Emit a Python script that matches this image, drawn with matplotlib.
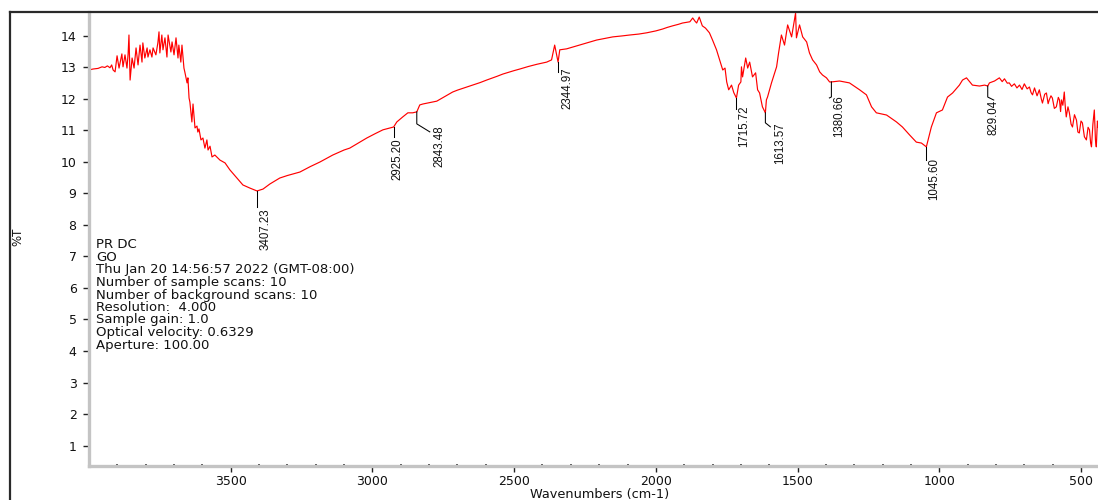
import numpy as np
import matplotlib
matplotlib.use("Agg")
import matplotlib.pyplot as plt
from matplotlib import font_manager
from matplotlib.lines import Line2D
from matplotlib.ticker import MultipleLocator

# FTIR spectrum of GO (wavenumber in cm-1, %T)
wavenumber = [
    4000, 3986, 3968, 3954, 3944, 3935, 3926, 3920, 3915, 3908,
    3901, 3894, 3884, 3880, 3873, 3866, 3862, 3859, 3855, 3848,
    3841, 3834, 3827, 3820, 3813, 3810, 3803, 3795, 3792, 3785,
    3778, 3774, 3764, 3757, 3753, 3750, 3743, 3739, 3732, 3725,
    3721, 3711, 3707, 3700, 3693, 3686, 3683, 3676, 3672, 3665,
    3662, 3654, 3651, 3647, 3644, 3637, 3633, 3626, 3619, 3616,
    3612, 3605, 3598, 3591, 3584, 3580, 3573, 3566, 3556, 3538,
    3520, 3503, 3478, 3457, 3432, 3407.23, 3386, 3362, 3327, 3300,
    3256, 3220, 3185, 3140, 3100, 3080, 3050, 3020, 2990, 2963,
    2925.20, 2914, 2893, 2875, 2858, 2843.48, 2833, 2822, 2800, 2773,
    2750, 2717, 2700, 2657, 2620, 2597, 2560, 2540, 2500, 2480,
    2450, 2420, 2400, 2385, 2368, 2357, 2344.97, 2339, 2315, 2269,
    2250, 2209, 2180, 2152, 2120, 2092, 2060, 2032, 2000, 1976,
    1960, 1941, 1920, 1906, 1880, 1870, 1862, 1856, 1847, 1836,
    1825, 1811, 1800, 1786, 1775, 1764, 1756, 1750, 1743, 1733,
    1725, 1715.72, 1708, 1700, 1698, 1694, 1683, 1676, 1669, 1659,
    1648, 1641, 1634, 1624, 1613.57, 1610, 1606, 1592, 1574, 1567,
    1557, 1546, 1535, 1521, 1511, 1507, 1504, 1493, 1482, 1468,
    1458, 1447, 1433, 1422, 1412, 1398, 1387, 1380.66, 1352, 1317,
    1281, 1257, 1239, 1222, 1186, 1151, 1130, 1105, 1081, 1063,
    1045.60, 1028, 1010, 989, 971, 953, 929, 918, 904, 883,
    858, 840, 829.04, 823, 805, 788, 778, 770, 760, 753,
    745, 735, 726, 717, 708, 700, 690, 682, 676, 671,
    664, 655, 647, 640, 636, 628, 622, 616, 612, 606,
    601, 594, 587, 580, 576, 572, 569, 564, 559, 555,
    552, 546, 541, 535, 530, 523, 516, 511, 506, 500,
    495, 488, 481, 475, 470, 466, 463, 458, 453, 449,
    446, 442, 439,
]
transmittance = [
    12.92, 12.95, 12.97, 13.02, 13.00, 13.05, 12.99, 13.08, 12.92, 12.86,
    13.37, 12.98, 13.43, 13.02, 13.40, 12.98, 13.43, 14.03, 12.60, 13.30,
    12.98, 13.62, 13.08, 13.71, 13.17, 13.78, 13.30, 13.62, 13.33, 13.56,
    13.33, 13.62, 13.40, 13.78, 14.13, 13.46, 14.03, 13.56, 13.94, 13.33,
    14.03, 13.49, 13.81, 13.40, 13.94, 13.30, 13.71, 13.17, 13.71, 12.98,
    12.86, 12.51, 12.67, 12.03, 11.90, 11.27, 11.84, 11.08, 11.14, 10.95,
    11.05, 10.70, 10.76, 10.44, 10.70, 10.38, 10.50, 10.16, 10.22, 10.06,
    9.97, 9.75, 9.49, 9.27, 9.17, 9.08, 9.14, 9.30, 9.49, 9.57,
    9.68, 9.85, 10.00, 10.22, 10.38, 10.44, 10.60, 10.76, 10.90, 11.02,
    11.11, 11.27, 11.43, 11.56, 11.56, 11.59, 11.81, 11.84, 11.88, 11.93,
    12.05, 12.22, 12.28, 12.41, 12.52, 12.60, 12.72, 12.79, 12.90, 12.95,
    13.03, 13.10, 13.14, 13.17, 13.24, 13.71, 13.17, 13.56, 13.59, 13.71,
    13.76, 13.87, 13.92, 13.97, 14.00, 14.03, 14.06, 14.10, 14.16, 14.22,
    14.27, 14.32, 14.37, 14.41, 14.45, 14.57, 14.47, 14.41, 14.60, 14.32,
    14.25, 14.10, 13.87, 13.56, 13.24, 12.92, 12.98, 12.54, 12.29, 12.44,
    12.20, 12.03, 12.44, 12.54, 13.02, 12.70, 13.30, 12.98, 13.17, 12.70,
    12.83, 12.29, 12.19, 11.75, 11.56, 11.97, 12.06, 12.51, 13.02, 13.46,
    14.03, 13.71, 14.35, 13.97, 14.51, 14.73, 13.94, 14.35, 13.97, 13.81,
    13.46, 13.24, 13.08, 12.86, 12.76, 12.67, 12.54, 12.54, 12.57, 12.51,
    12.29, 12.13, 11.75, 11.56, 11.49, 11.27, 11.11, 10.86, 10.63, 10.60,
    10.48, 11.11, 11.56, 11.65, 12.06, 12.19, 12.44, 12.60, 12.67, 12.44,
    12.41, 12.44, 12.41, 12.51, 12.57, 12.67, 12.55, 12.64, 12.50, 12.51,
    12.40, 12.48, 12.35, 12.44, 12.30, 12.48, 12.32, 12.38, 12.20, 12.13,
    12.35, 12.10, 12.29, 12.00, 11.87, 12.15, 12.19, 11.85, 11.97, 12.10,
    12.03, 11.70, 11.75, 12.05, 11.97, 11.60, 11.97, 11.80, 12.22, 11.70,
    11.43, 11.75, 11.56, 11.20, 11.11, 11.50, 11.33, 10.95, 10.92, 11.30,
    11.24, 10.80, 10.70, 11.10, 11.02, 10.60, 10.48, 11.20, 11.65, 10.70,
    10.48, 11.30, 11.10,
]

peak_labels = [3407.23, 2925.20, 2843.48, 2344.97, 1715.72, 1613.57,
               1380.66, 1045.60, 829.04]

x_ticks = [3500, 3000, 2500, 2000, 1500, 1000, 500]
y_ticks = list(range(1, 15))

info_lines = [
    "PR DC",
    "GO",
    "Thu Jan 20 14:56:57 2022 (GMT-08:00)",
    "Number of sample scans: 10",
    "Number of background scans: 10",
    "Resolution:  4.000",
    "Sample gain: 1.0",
    "Optical velocity: 0.6329",
    "Aperture: 100.00",
]

# leader shape (pixel offsets, y down) and text offset (dx, top) per peak
leaders = {
    3407.23: ([(0, 0), (0, 16)], (9, 17)),
    2925.20: ([(0, 0), (0, 10)], (4, 11)),
    2843.48: ([(0, 0), (0, 12), (13, 20)], (23, 14)),
    2344.97: ([(0, 0), (0, 10)], (9, 5)),
    1715.72: ([(0, 0), (0, 11)], (8, 7)),
    1613.57: ([(0, 0), (0, 10), (5, 14)], (15, 10)),
    1380.66: ([(0, 0), (0, 15), (-2, 16)], (8, 13)),
    1045.60: ([(0, 0), (0, 13)], (8, 11)),
    829.04: ([(0, 0), (0, 11), (6, 14)], (6, 14)),
}

names = {f.name for f in font_manager.fontManager.ttflist}
if "Liberation Sans Narrow" in names:
    peak_font, peak_size = "Liberation Sans Narrow", 9.7
else:
    peak_font, peak_size = "Liberation Sans", 8.3

W, H = 1098, 500
fig = plt.figure(figsize=(W / 100, H / 100), dpi=100)
ax = fig.add_axes([89 / W, (H - 466) / H, (W - 89) / W, (466 - 12) / H])

wn = np.array(wavenumber)
tr = np.array(transmittance)
ax.plot(wn, tr, color="#ff0000", lw=0.85)

ax.set_xlim(4000, 440)
ax.set_ylim(0.35, 14.76)

# axes styling: grey spines, small dark ticks
for side in ["top", "right"]:
    ax.spines[side].set_visible(False)
for side in ["left", "bottom"]:
    ax.spines[side].set_color("#c4c4c4")
    ax.spines[side].set_linewidth(2.4)
ax.set_xticks(x_ticks)
ax.set_yticks(y_ticks)
ax.xaxis.set_minor_locator(MultipleLocator(100))
ax.yaxis.set_minor_locator(MultipleLocator(0.2))
ax.tick_params(which="major", direction="out", length=4, width=1, color="#222222",
               labelsize=9, labelcolor="#111111")
ax.tick_params(axis="y", which="major", pad=5)
ax.tick_params(axis="x", which="major", pad=2.5)
ax.tick_params(which="minor", direction="in", length=1.5, width=1.2, color="#333333")

# peak markers
fig.canvas.draw()
inv = ax.transData.inverted()
for p in peak_labels:
    t = np.interp(p, wn[::-1], tr[::-1])
    base = ax.transData.transform((p, t))
    path, (tdx, ttop) = leaders[p]
    pts = np.array([[base[0] + dx, base[1] - dy] for dx, dy in path])
    data_pts = inv.transform(pts)
    ax.plot(data_pts[:, 0], data_pts[:, 1], color="black", lw=0.75)
    ax.annotate(f"{p:.2f}", xy=(p, t), xytext=(tdx, -ttop), textcoords="offset pixels",
                rotation=90, ha="center", va="top", fontsize=peak_size,
                family=peak_font, color="#111111")

# instrument info block
for i, line in enumerate(info_lines):
    ypx = 245 + i * 12.5
    ax.text(7 / (W - 89), (466 - ypx) / (466 - 12), line, transform=ax.transAxes,
            ha="left", va="center", fontsize=9.5, color="#111111")

fig.text(18 / W, (H - 237) / H, "%T", rotation=90, ha="center", va="center",
         fontsize=8.5, color="#111111")
fig.text(600 / W, (H - 494.5) / H, "Wavenumbers (cm-1)", ha="center", va="center",
         fontsize=9.3, color="#111111")

# outer frame lines
fig.add_artist(Line2D([10 / W, 10 / W], [0, (H - 12) / H], color="#2a2a2a", lw=1.6,
                      transform=fig.transFigure))
fig.add_artist(Line2D([10 / W, 1], [(H - 12) / H, (H - 12) / H], color="#2a2a2a", lw=1.6,
                      transform=fig.transFigure))

fig.savefig("out.png", dpi=100)
